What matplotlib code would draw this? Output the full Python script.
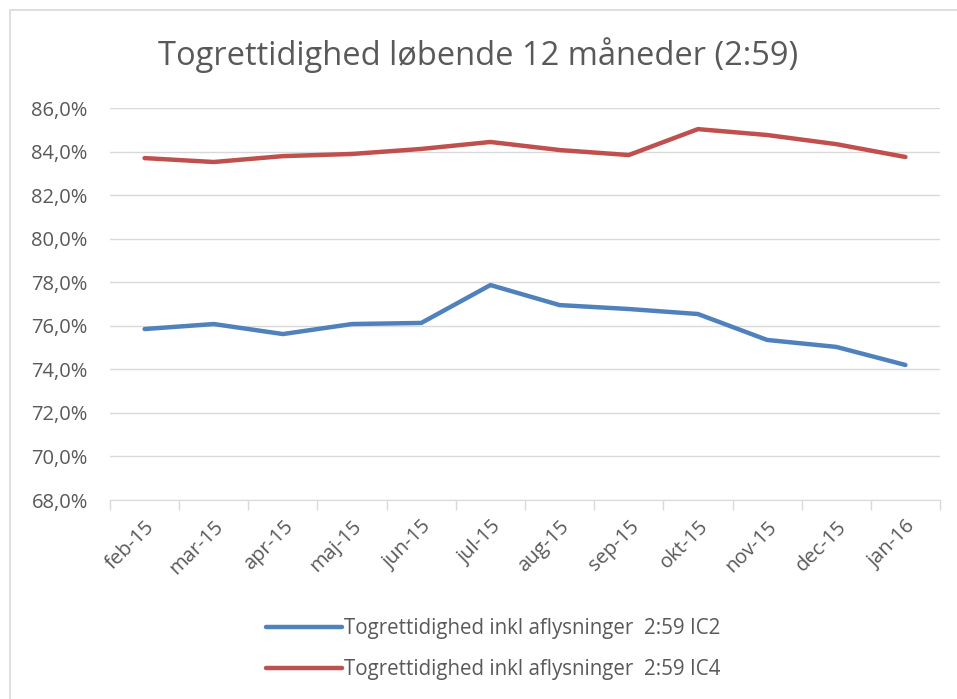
import matplotlib.pyplot as plt
from matplotlib.patches import Rectangle
from matplotlib.ticker import FuncFormatter, FixedLocator
import numpy as np

months = ['feb-15', 'mar-15', 'apr-15', 'maj-15', 'jun-15', 'jul-15',
          'aug-15', 'sep-15', 'okt-15', 'nov-15', 'dec-15', 'jan-16']
ic2 = [75.85, 76.08, 75.62, 76.08, 76.13, 77.87,
       76.95, 76.77, 76.54, 75.35, 75.03, 74.2]
ic4 = [83.70, 83.52, 83.79, 83.89, 84.12, 84.44,
       84.07, 83.84, 85.03, 84.76, 84.34, 83.75]
labels = ['Togrettidighed inkl aflysninger  2:59 IC2',
          'Togrettidighed inkl aflysninger  2:59 IC4']

plt.rcParams['font.family'] = ['Open Sans', 'DejaVu Sans']
grey = '#595959'

fig = plt.figure(figsize=(9.57, 6.99), dpi=100)
# chart border
fig.patches.append(Rectangle((10/957, -0.01), 1.0, 1 - 10/699 + 0.01,
                             transform=fig.transFigure, fill=False,
                             edgecolor='#d9d9d9', linewidth=1.2))

ax = fig.add_axes([110/957, 1 - 500/699, 830/957, 392/699])
x = np.arange(len(months))
l1, = ax.plot(x, ic2, color='#4F81BD', linewidth=3.2, solid_capstyle='round')
l2, = ax.plot(x, ic4, color='#C0504D', linewidth=3.2, solid_capstyle='round')

ax.set_xlim(-0.5, len(months) - 0.5)
ax.set_ylim(68, 86)
ax.set_yticks(np.arange(68, 86.1, 2))
ax.yaxis.set_major_formatter(FuncFormatter(lambda v, p: f'{v:.1f}%'.replace('.', ',')))
ax.grid(axis='y', color='#d9d9d9', linewidth=1)
ax.set_axisbelow(True)

ax.set_xticks(x)
ax.set_xticklabels(months, rotation=45, ha='right', rotation_mode='anchor')
ax.xaxis.set_minor_locator(FixedLocator(np.arange(-0.5, len(months), 1)))
ax.tick_params(axis='x', which='major', length=0, pad=12, labelsize=14.5, labelcolor=grey)
ax.tick_params(axis='x', which='minor', length=7, color='#d9d9d9', width=1)
ax.tick_params(axis='y', length=0, pad=16, labelsize=14.5, labelcolor=grey)

for s in ['top', 'right', 'left']:
    ax.spines[s].set_visible(False)
ax.spines['bottom'].set_color('#d9d9d9')

fig.text(0.5, 1 - 55/699, 'Togrettidighed løbende 12 måneder (2:59)',
         ha='center', va='center', fontsize=23.5, color=grey)

fig.legend([l1, l2], labels, loc='center', bbox_to_anchor=(493/957, 1 - 649/699),
           frameon=False, fontsize=14.8, labelcolor=grey, handlelength=3.7,
           handletextpad=0.1, labelspacing=1.0)

fig.savefig('out.png', dpi=100)
